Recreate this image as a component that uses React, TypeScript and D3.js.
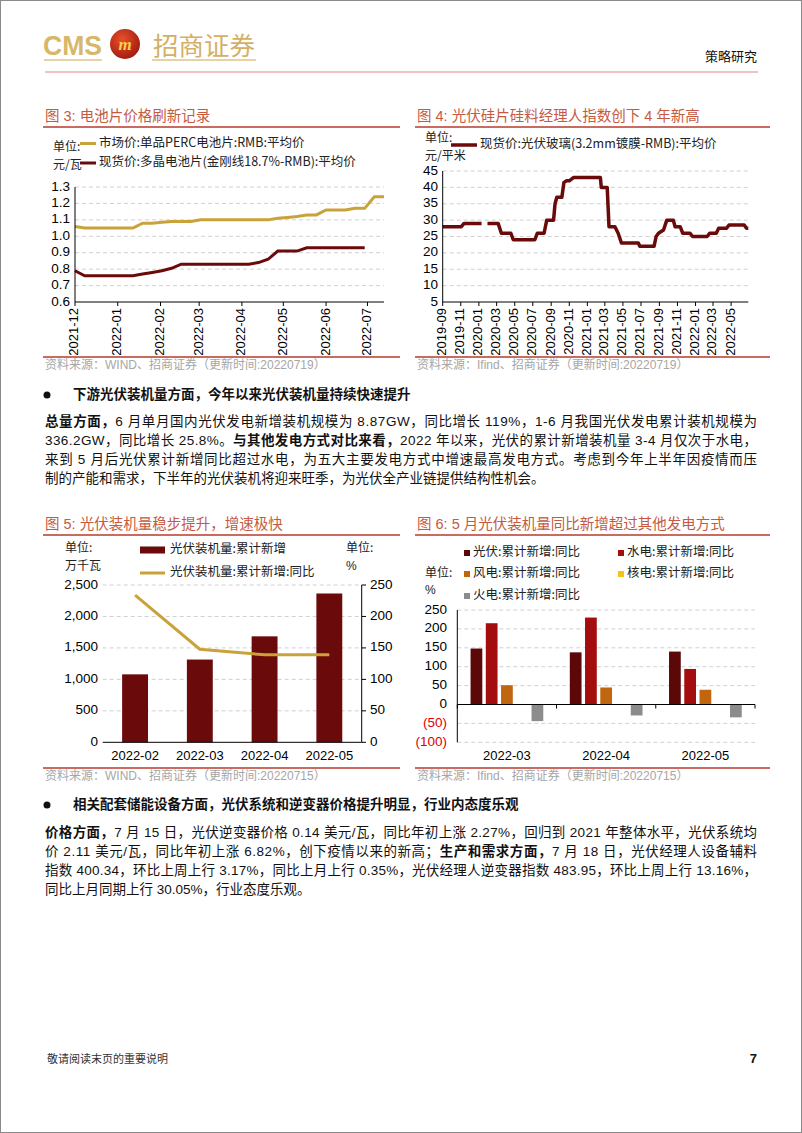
import React from 'react';
import * as d3 from 'd3';

// ---------- DATA ----------
const fig3Dates = ['2021-12-01','2021-12-08','2021-12-15','2021-12-22','2021-12-29','2022-01-05','2022-01-12','2022-01-19','2022-01-26','2022-02-02','2022-02-09','2022-02-16','2022-02-23','2022-03-02','2022-03-09','2022-03-16','2022-03-23','2022-03-30','2022-04-06','2022-04-13','2022-04-20','2022-04-27','2022-05-04','2022-05-11','2022-05-18','2022-05-25','2022-06-01','2022-06-08','2022-06-15','2022-06-22','2022-06-29','2022-07-06','2022-07-13'];
const percPrice = [1.06,1.05,1.05,1.05,1.05,1.05,1.05,1.08,1.08,1.085,1.09,1.09,1.09,1.10,1.10,1.10,1.10,1.10,1.10,1.10,1.10,1.11,1.115,1.12,1.13,1.13,1.16,1.16,1.16,1.17,1.17,1.24,1.24];
const polyPrice: (number|null)[] = [0.79,0.76,0.76,0.76,0.76,0.76,0.76,0.77,0.78,0.79,0.805,0.83,0.83,0.83,0.83,0.83,0.83,0.83,0.83,0.84,0.86,0.91,0.91,0.91,0.93,0.93,0.93,0.93,0.93,0.93,0.93,null,null];
const fig3Legend = ['市场价:单品PERC电池片:RMB:平均价','现货价:多晶电池片(金刚线18.7%-RMB):平均价'];
const fig3YTicks = [0.6,0.7,0.8,0.9,1.0,1.1,1.2,1.3];

const glassDates = ['2019-09-01','2019-11-03','2019-11-12','2020-01-10','2020-01-20','2020-01-30','2020-03-06','2020-03-17','2020-04-18','2020-04-26','2020-07-08','2020-07-16','2020-08-08','2020-08-17','2020-09-09','2020-09-14','2020-09-20','2020-10-07','2020-10-14','2020-10-23','2020-11-01','2020-11-15','2021-02-14','2021-02-17','2021-03-09','2021-03-15','2021-04-04','2021-04-15','2021-04-26','2021-06-22','2021-06-27','2021-08-14','2021-08-21','2021-08-29','2021-09-15','2021-09-26','2021-10-18','2021-10-24','2021-11-10','2021-11-19','2021-12-13','2021-12-22','2022-02-09','2022-02-18','2022-03-12','2022-03-20','2022-04-15','2022-04-24','2022-06-14','2022-06-22','2022-06-28'];
const glassPrice: (number|null)[] = [28,28,29,29,null,29,29,26,26,24,24,26,26,30,30,35,37,37,41.5,42,42,43,43,40,40,28,28,26,23,23,22,22,25,26,27,30,30,28,28,26,26,25,25,26,26,27.5,27.5,28.5,28.5,27.5,27.5];
const fig4Legend = '现货价:光伏玻璃(3.2mm镀膜-RMB):平均价';
const fig4YTicks = [5,10,15,20,25,30,35,40,45];

const fig5Cats = ['2022-02','2022-03','2022-04','2022-05'];
const pvCumAdded = [1080,1315,1684,2365];
const pvCumYoY = [234,148,139,139];
const fig5LeftTicks = [0,500,1000,1500,2000,2500];
const fig5RightTicks = [0,50,100,150,200,250];
const fig5Legend = ['光伏装机量:累计新增','光伏装机量:累计新增:同比'];

const fig6Cats = ['2022-03','2022-04','2022-05'];
const fig6Series = ['光伏','水电','风电','核电','火电'];
const fig6Solar = [148,138,140];
const fig6Hydro = [215,230,94];
const fig6Wind = [51,45,39];
const fig6Nuclear: (number|null)[] = [null,null,null];
const fig6Thermal = [-44,-29,-34];
const fig6Colors = ['#5c0808','#a30d0d','#c0660f','#f3c316','#8c8c8c'];
const fig6YTicks = [-100,-50,0,50,100,150,200,250];

type Seg = [string, boolean];
const para1: Seg[][] = [
  [['总量方面，', true], ['6 月单月国内光伏发电新增装机规模为 8.87GW，同比增长 119%，1-6 月我国光伏发电累计装机规模为', false]],
  [['336.2GW，同比增长 25.8%。', false], ['与其他发电方式对比来看，', true], ['2022 年以来，光伏的累计新增装机量 3-4 月仅次于水电，', false]],
  [['来到 5 月后光伏累计新增同比超过水电，为五大主要发电方式中增速最高发电方式。考虑到今年上半年因疫情而压', false]],
  [['制的产能和需求，下半年的光伏装机将迎来旺季，为光伏全产业链提供结构性机会。', false]],
];
const para2: Seg[][] = [
  [['价格方面，', true], ['7 月 15 日，光伏逆变器价格 0.14 美元/瓦，同比年初上涨 2.27%，回归到 2021 年整体水平，光伏系统均', false]],
  [['价 2.11 美元/瓦，同比年初上涨 6.82%，创下疫情以来的新高；', false], ['生产和需求方面，', true], ['7 月 18 日，光伏经理人设备辅料', false]],
  [['指数 400.34，环比上周上行 3.17%，同比上月上行 0.35%，光伏经理人逆变器指数 483.95，环比上周上行 13.16%，', false]],
  [['同比上月同期上行 30.05%，行业态度乐观。', false]],
];

// ---------- STYLE ----------
const MIX = '"Liberation Sans", Arial, "Noto Sans CJK SC", sans-serif';
const CJK = '"Noto Sans CJK SC", sans-serif';
const TITLE_RED = '#c55a3f';
const RULE_RED = '#b83a2c';
const GOLD = '#c9a23a';
const MAROON = '#6a0a0a';
const GRID = '#d0d0d0';
const SRC = '#a6a6a6';
const TICK = 13.5;

const parse = d3.timeParse('%Y-%m-%d');

function Title({ x, text }: { x: number; text: string }) {
  return <text x={x} y={0} fill={TITLE_RED} fontFamily={MIX} fontSize={14.5} dominantBaseline="middle">{text}</text>;
}

function FigFrame({ x, w, titleY, title, bottomY, source }: any) {
  return (
    <g>
      <g transform={`translate(0,${titleY})`}><Title x={x + 2} text={title} /></g>
      <line x1={x} x2={x + w} y1={titleY + 10} y2={titleY + 10} stroke={RULE_RED} strokeWidth={1.5} />
      <line x1={x} x2={x + w} y1={bottomY} y2={bottomY} stroke={RULE_RED} strokeWidth={1.5} />
      <text x={x + 2} y={bottomY + 9} fill={SRC} fontFamily={MIX} fontSize={12} dominantBaseline="middle">{source}</text>
    </g>
  );
}

function Fig3() {
  const x = d3.scaleTime().domain([parse('2021-12-01')!, parse('2022-07-13')!]).range([75, 384]);
  const y = d3.scaleLinear().domain([0.6, 1.3]).range([302, 187]);
  const pts = (vals: (number | null)[]) => fig3Dates.map((d, i) => [parse(d)!, vals[i]] as [Date, number | null]);
  const line = d3.line<[Date, number | null]>().defined(d => d[1] != null).x(d => x(d[0])).y(d => y(d[1] as number));
  const months = d3.timeMonth.range(parse('2021-12-01')!, parse('2022-07-02')!);
  const fmt = d3.timeFormat('%Y-%m');
  return (
    <g>
      <FigFrame x={43} w={357} titleY={117} title="图 3:  电池片价格刷新记录" bottomY={357} source="资料来源：WIND、招商证券（更新时间:20220719）" />
      <text x={53} y={148} fontFamily={CJK} fontSize={12} fill="#222" dominantBaseline="middle">单位:</text>
      <text x={53} y={166} fontFamily={CJK} fontSize={12} fill="#222" dominantBaseline="middle">元/瓦</text>
      <line x1={80} x2={96} y1={143.5} y2={143.5} stroke={GOLD} strokeWidth={3} />
      <text x={99} y={143.5} fontFamily={CJK} fontSize={12.5} fill="#222" dominantBaseline="middle">{fig3Legend[0]}</text>
      <line x1={80} x2={96} y1={163} y2={163} stroke={MAROON} strokeWidth={3} />
      <text x={99} y={163} fontFamily={CJK} fontSize={12.5} fill="#222" dominantBaseline="middle">{fig3Legend[1]}</text>
      {fig3YTicks.slice(1).map(t => (
        <line key={t} x1={75} x2={384} y1={y(t)} y2={y(t)} stroke={GRID} strokeDasharray="4,3" />
      ))}
      {fig3YTicks.map(t => (
        <text key={t} x={70} y={y(t)} textAnchor="end" dominantBaseline="middle" fontFamily={MIX} fontSize={TICK} fill="#000">{t.toFixed(1)}</text>
      ))}
      <path d={line(pts(percPrice))!} fill="none" stroke={GOLD} strokeWidth={3} />
      <path d={line(pts(polyPrice))!} fill="none" stroke={MAROON} strokeWidth={3} />
      <line x1={75} x2={75} y1={187} y2={302} stroke="#000" />
      <line x1={75} x2={384} y1={302} y2={302} stroke="#000" />
      {months.map(m => (
        <g key={+m}>
          <line x1={x(m)} x2={x(m)} y1={302} y2={306} stroke="#000" />
          <text transform={`translate(${x(m)},${308}) rotate(-90)`} textAnchor="end" dominantBaseline="middle" fontFamily={MIX} fontSize={13} fill="#000">{fmt(m)}</text>
        </g>
      ))}
    </g>
  );
}

function Fig4() {
  const x = d3.scaleTime().domain([parse('2019-09-01')!, parse('2022-06-28')!]).range([442.7, 748.3]);
  const y = d3.scaleLinear().domain([5, 45]).range([302, 171]);
  const pts = glassDates.map((d, i) => [parse(d)!, glassPrice[i]] as [Date, number | null]);
  const line = d3.line<[Date, number | null]>().defined(d => d[1] != null).x(d => x(d[0])).y(d => y(d[1] as number));
  const months = d3.timeMonth.range(parse('2019-09-01')!, parse('2022-06-02')!, 2);
  const fmt = d3.timeFormat('%Y-%m');
  return (
    <g>
      <FigFrame x={415} w={355} titleY={117} title="图 4:  光伏硅片硅料经理人指数创下 4 年新高" bottomY={357} source="资料来源：Ifind、招商证券（更新时间:20220719）" />
      <text x={425} y={139} fontFamily={CJK} fontSize={12} fill="#222" dominantBaseline="middle">单位:</text>
      <text x={425} y={157} fontFamily={CJK} fontSize={12} fill="#222" dominantBaseline="middle">元/平米</text>
      <line x1={451} x2={477} y1={145} y2={145} stroke={MAROON} strokeWidth={3.5} />
      <text x={480} y={145} fontFamily={CJK} fontSize={12.5} fill="#222" dominantBaseline="middle">{fig4Legend}</text>
      {fig4YTicks.slice(1).map(t => (
        <line key={t} x1={442.7} x2={748.3} y1={y(t)} y2={y(t)} stroke={GRID} strokeDasharray="4,3" />
      ))}
      {fig4YTicks.map(t => (
        <text key={t} x={438} y={y(t)} textAnchor="end" dominantBaseline="middle" fontFamily={MIX} fontSize={TICK} fill="#000">{t}</text>
      ))}
      <path d={line(pts)!} fill="none" stroke={MAROON} strokeWidth={3.5} strokeLinejoin="round" />
      <line x1={442.7} x2={442.7} y1={171} y2={302} stroke="#000" />
      <line x1={442.7} x2={748.3} y1={302} y2={302} stroke="#000" />
      {months.map(m => (
        <g key={+m}>
          <line x1={x(m)} x2={x(m)} y1={302} y2={306} stroke="#000" />
          <text transform={`translate(${x(m)},${308}) rotate(-90)`} textAnchor="end" dominantBaseline="middle" fontFamily={MIX} fontSize={13} fill="#000">{fmt(m)}</text>
        </g>
      ))}
    </g>
  );
}

function Fig5() {
  const x = d3.scaleBand<string>().domain(fig5Cats).range([102.7, 361.7]);
  const yL = d3.scaleLinear().domain([0, 2500]).range([742.3, 585]);
  const yR = d3.scaleLinear().domain([0, 250]).range([742.3, 585]);
  const bw = x.bandwidth() * 0.4;
  const line = d3.line<number>().x((_, i) => x(fig5Cats[i])! + x.bandwidth() / 2).y(d => yR(d));
  const fmt = d3.format(',');
  return (
    <g>
      <FigFrame x={43} w={357} titleY={525} title="图 5:  光伏装机量稳步提升，增速极快" bottomY={768} source="资料来源：WIND、招商证券（更新时间:20220715）" />
      <text x={65} y={549} fontFamily={CJK} fontSize={12} fill="#222" dominantBaseline="middle">单位:</text>
      <text x={65} y={567} fontFamily={CJK} fontSize={12} fill="#222" dominantBaseline="middle">万千瓦</text>
      <text x={346} y={549} fontFamily={CJK} fontSize={12} fill="#222" dominantBaseline="middle">单位:</text>
      <text x={346} y={567} fontFamily={MIX} fontSize={12} fill="#222" dominantBaseline="middle">%</text>
      <rect x={140} y={546.5} width={25} height={7} fill={MAROON} />
      <text x={170} y={550} fontFamily={CJK} fontSize={12.5} fill="#222" dominantBaseline="middle">{fig5Legend[0]}</text>
      <line x1={140} x2={165} y1={573} y2={573} stroke={GOLD} strokeWidth={3} />
      <text x={170} y={573} fontFamily={CJK} fontSize={12.5} fill="#222" dominantBaseline="middle">{fig5Legend[1]}</text>
      {fig5LeftTicks.slice(1).map(t => (
        <line key={t} x1={102.7} x2={361.7} y1={yL(t)} y2={yL(t)} stroke={GRID} strokeDasharray="4,3" />
      ))}
      {fig5LeftTicks.map(t => (
        <text key={t} x={98} y={yL(t)} textAnchor="end" dominantBaseline="middle" fontFamily={MIX} fontSize={TICK} fill="#000">{fmt(t)}</text>
      ))}
      {fig5RightTicks.map(t => (
        <g key={t}>
          <line x1={361.7} x2={366} y1={yR(t)} y2={yR(t)} stroke="#000" />
          <text x={370} y={yR(t)} dominantBaseline="middle" fontFamily={MIX} fontSize={TICK} fill="#000">{t}</text>
        </g>
      ))}
      {pvCumAdded.map((v, i) => (
        <rect key={i} x={x(fig5Cats[i])! + x.bandwidth() / 2 - bw / 2} y={yL(v)} width={bw} height={yL(0) - yL(v)} fill={MAROON} />
      ))}
      <path d={line(pvCumYoY)!} fill="none" stroke={GOLD} strokeWidth={3} />
      <line x1={102.7} x2={361.7} y1={742.3} y2={742.3} stroke="#000" />
      <line x1={361.7} x2={361.7} y1={585} y2={742.3} stroke="#000" />
      {fig5Cats.map(c => (
        <text key={c} x={x(c)! + x.bandwidth() / 2} y={757} textAnchor="middle" dominantBaseline="middle" fontFamily={MIX} fontSize={13} fill="#000">{c}</text>
      ))}
    </g>
  );
}

function Fig6() {
  const x = d3.scaleBand<string>().domain(fig6Cats).range([457.3, 755]);
  const xi = d3.scaleBand<string>().domain(fig6Series).range([0, x.bandwidth()]).paddingInner(0.23).paddingOuter(0.87);
  const y = d3.scaleLinear().domain([-100, 250]).range([742.3, 610]);
  const values = [fig6Solar, fig6Hydro, fig6Wind, fig6Nuclear, fig6Thermal];
  const legendPos = [[464, 553], [618, 553], [464, 574], [618, 574], [464, 596]];
  const fmt = (t: number) => (t < 0 ? `(${-t})` : `${t}`);
  return (
    <g>
      <FigFrame x={415} w={355} titleY={525} title="图 6:  5 月光伏装机量同比新增超过其他发电方式" bottomY={768} source="资料来源：Ifind、招商证券（更新时间:20220715）" />
      <text x={425} y={574} fontFamily={CJK} fontSize={12} fill="#222" dominantBaseline="middle">单位:</text>
      <text x={425} y={591} fontFamily={MIX} fontSize={12} fill="#222" dominantBaseline="middle">%</text>
      {fig6Series.map((s, i) => (
        <g key={s}>
          <rect x={legendPos[i][0]} y={legendPos[i][1] - 3} width={6} height={6} fill={fig6Colors[i]} />
          <text x={legendPos[i][0] + 9} y={legendPos[i][1]} fontFamily={CJK} fontSize={12.5} fill="#222" dominantBaseline="middle">{`${s}:累计新增:同比`}</text>
        </g>
      ))}
      {fig6YTicks.filter(t => t !== 0).map(t => (
        <line key={t} x1={457.3} x2={755} y1={y(t)} y2={y(t)} stroke={GRID} strokeDasharray="4,3" />
      ))}
      {fig6YTicks.map(t => (
        <text key={t} x={447} y={y(t)} textAnchor="end" dominantBaseline="middle" fontFamily={MIX} fontSize={TICK} fill={t < 0 ? '#e00000' : '#000'}>{fmt(t)}</text>
      ))}
      {values.map((vals, si) =>
        vals.map((v, ci) =>
          v == null ? null : (
            <rect key={`${si}-${ci}`} x={x(fig6Cats[ci])! + xi(fig6Series[si])!} y={y(Math.max(0, v))} width={xi.bandwidth()} height={Math.abs(y(v) - y(0))} fill={fig6Colors[si]} />
          )
        )
      )}
      <line x1={457.3} x2={457.3} y1={610} y2={742.3} stroke="#000" />
      <line x1={457.3} x2={755} y1={y(0)} y2={y(0)} stroke="#000" />
      {[...fig6Cats.map(c => x(c)!), 755].map((p, i) => (
        <line key={i} x1={p} x2={p} y1={y(0)} y2={y(0) + 4} stroke="#000" />
      ))}
      {fig6Cats.map(c => (
        <text key={c} x={x(c)! + x.bandwidth() / 2} y={757} textAnchor="middle" dominantBaseline="middle" fontFamily={MIX} fontSize={13} fill="#000">{c}</text>
      ))}
    </g>
  );
}

function Para({ lines, y0 }: { lines: Seg[][]; y0: number }) {
  return (
    <g>
      {lines.map((segs, i) => (
        <text key={i} x={45} y={y0 + i * 19} fontFamily={MIX} fontSize={13.5} fill="#111" dominantBaseline="middle"
          {...(i < lines.length - 1 ? { textLength: 712, lengthAdjust: 'spacing' } : {})}>
          {segs.map(([t, b], j) => (
            <tspan key={j} fontWeight={b ? 'bold' : 'normal'}>{t}</tspan>
          ))}
        </text>
      ))}
    </g>
  );
}

function Bullet({ y, text }: { y: number; text: string }) {
  return (
    <g>
      <circle cx={47} cy={y} r={3.5} fill="#111" />
      <text x={73} y={y} fontFamily={CJK} fontWeight="bold" fontSize={13.5} fill="#111" dominantBaseline="middle">{text}</text>
    </g>
  );
}

function Header() {
  return (
    <g>
      <text x={43} y={55} fontFamily='"Liberation Sans Narrow", "Liberation Sans", sans-serif' fontWeight="bold" fontSize={28} fill="#d8b76a" textLength={59} lengthAdjust="spacingAndGlyphs">CMS</text>
      <defs>
        <radialGradient id="lg" cx="40%" cy="35%" r="70%">
          <stop offset="0%" stopColor="#e8502a" />
          <stop offset="100%" stopColor="#9e1a10" />
        </radialGradient>
      </defs>
      <circle cx={125} cy={44} r={15} fill="url(#lg)" />
      <text x={125} y={50} textAnchor="middle" fontFamily='"Liberation Serif", serif' fontStyle="italic" fontWeight="bold" fontSize={17} fill="#f5d24a">m</text>
      <text x={153} y={55} fontFamily={CJK} fontSize={25} fill="#d3b064" textLength={102} lengthAdjust="spacingAndGlyphs">招商证券</text>
      <line x1={44} x2={102} y1={60} y2={60} stroke="#dcc48a" strokeWidth={1.5} />
      <line x1={152} x2={256} y1={60} y2={60} stroke="#dcc48a" strokeWidth={1.5} />
      <line x1={45} x2={758} y1={72} y2={72} stroke="#e08a80" strokeWidth={1.2} />
      <text x={757} y={57} textAnchor="end" fontFamily={CJK} fontSize={13} fill="#111" dominantBaseline="middle">策略研究</text>
    </g>
  );
}

export default function App() {
  return (
    <div style={{ position: 'absolute', left: 0, top: 0 }}>
      <svg width={802} height={1133} viewBox="0 0 802 1133" style={{ display: 'block', background: '#fff' }}>
        <rect x={0.5} y={0.5} width={801} height={1132} fill="#fff" stroke="#8a8a8a" />
        <Header />
        <Fig3 />
        <Fig4 />
        <Bullet y={395} text="下游光伏装机量方面，今年以来光伏装机量持续快速提升" />
        <Para lines={para1} y0={422} />
        <Fig5 />
        <Fig6 />
        <Bullet y={805} text="相关配套储能设备方面，光伏系统和逆变器价格提升明显，行业内态度乐观" />
        <Para lines={para2} y0={833} />
        <text x={47} y={1060} fontFamily={CJK} fontSize={11} fill="#333" dominantBaseline="middle">敬请阅读末页的重要说明</text>
        <text x={757} y={1060} textAnchor="end" fontFamily={MIX} fontWeight="bold" fontSize={13} fill="#111" dominantBaseline="middle">7</text>
      </svg>
    </div>
  );
}
